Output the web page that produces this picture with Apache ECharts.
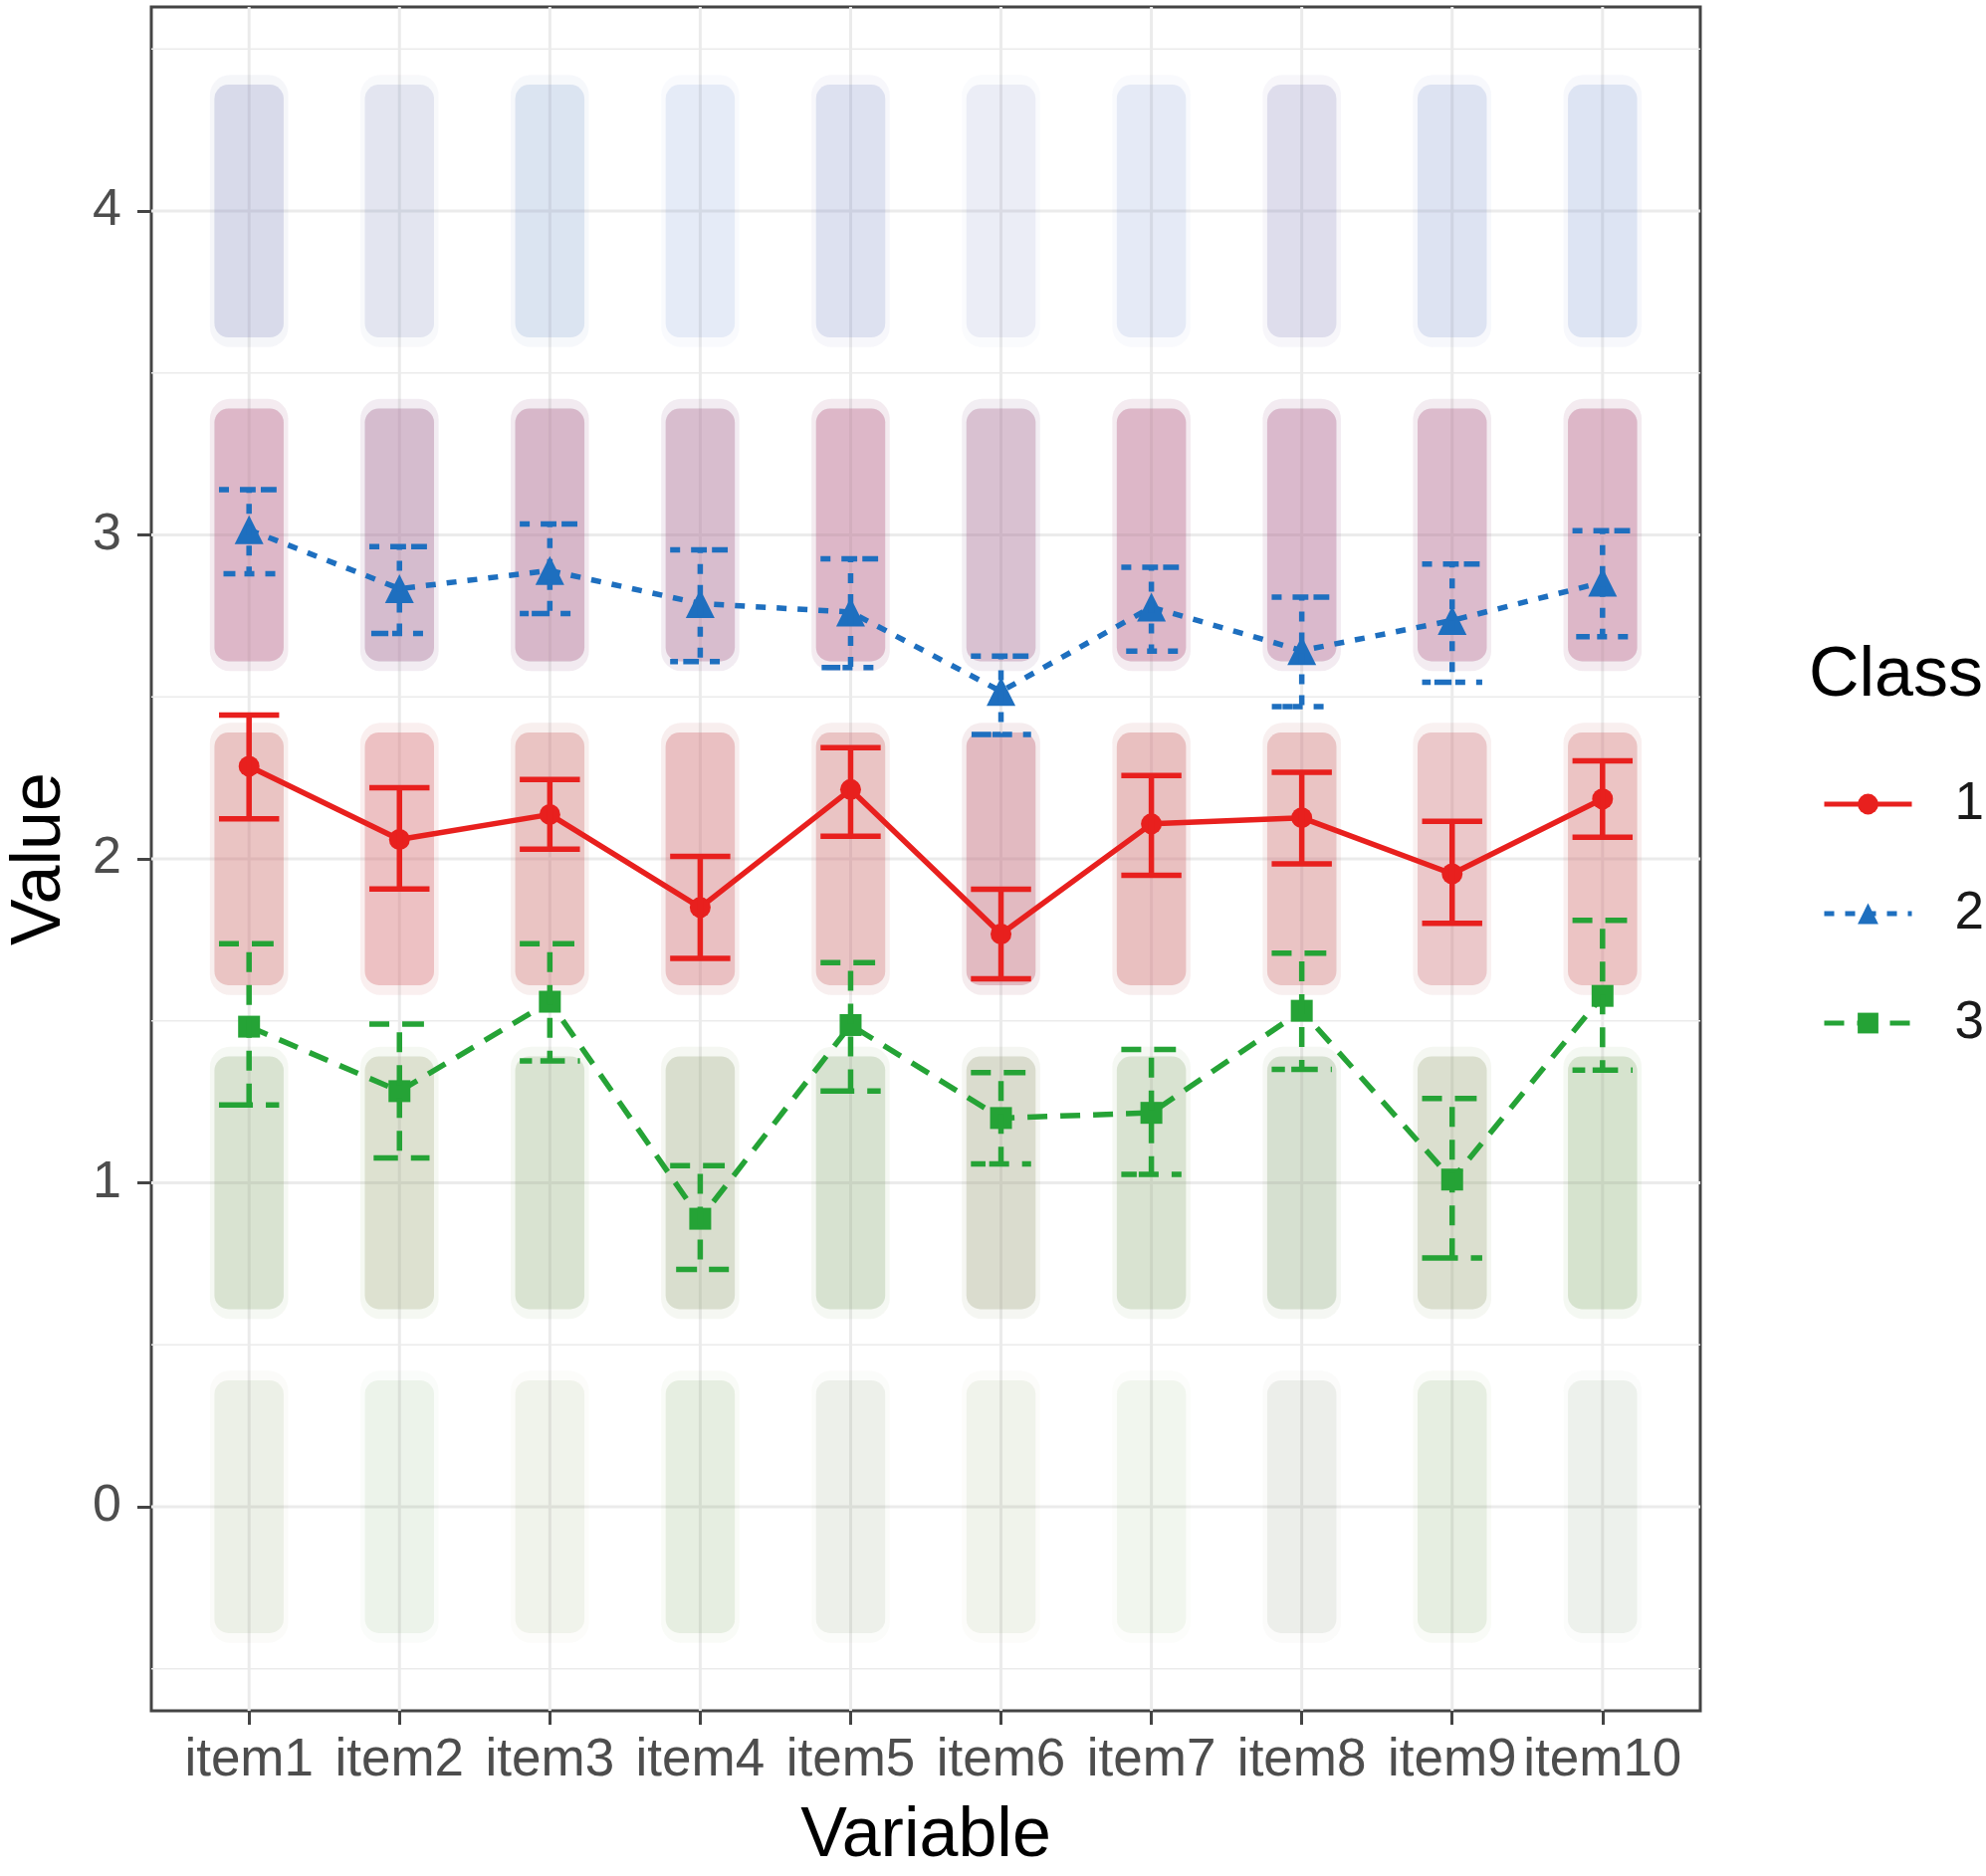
<!DOCTYPE html>
<html>
<head>
<meta charset="utf-8">
<script src="https://cdn.jsdelivr.net/npm/echarts@6/dist/echarts.min.js"></script>
<style>
html,body{margin:0;padding:0;background:#fff;}
#chart{width:1995px;height:1885px;}
</style>
</head>
<body>
<div id="chart"></div>
<script>
var items = ['item1','item2','item3','item4','item5','item6','item7','item8','item9','item10'];
var itemPos = [1,2,3,4,5,6,7,8,9,10];
var yTicks = [0,1,2,3,4];
var yMinor = [-0.5,0.5,1.5,2.5,3.5,4.5];
var levels = [0,1,2,3,4];

// class means and error bar ends
var mean1 = [2.286,2.06,2.137,1.85,2.214,1.768,2.108,2.127,1.954,2.185];
var hi1   = [2.444,2.22,2.245,2.008,2.343,1.906,2.257,2.267,2.116,2.303];
var lo1   = [2.124,1.907,2.03,1.693,2.07,1.63,1.949,1.985,1.801,2.067];
var mean2 = [3.016,2.834,2.89,2.788,2.762,2.517,2.777,2.643,2.736,2.854];
var hi2   = [3.14,2.964,3.034,2.954,2.926,2.626,2.90,2.808,2.91,3.013];
var lo2   = [2.88,2.696,2.757,2.609,2.591,2.384,2.641,2.47,2.545,2.686];
var mean3 = [1.482,1.283,1.559,0.889,1.487,1.20,1.216,1.531,1.01,1.577];
var hi3   = [1.738,1.49,1.738,1.053,1.68,1.34,1.412,1.709,1.26,1.81];
var lo3   = [1.24,1.077,1.376,0.733,1.283,1.058,1.026,1.35,0.768,1.348];

// density of jittered raw answers, rows = answer 0..4, columns = items
var cloud1 = [
  [0.08,0.05,0.07,0.08,0.08,0.07,0.04,0.08,0.08,0.06],
  [0.13,0.17,0.12,0.17,0.13,0.2,0.13,0.13,0.17,0.12],
  [0.6,0.65,0.6,0.65,0.6,0.65,0.65,0.6,0.55,0.6],
  [0.6,0.5,0.55,0.5,0.6,0.45,0.6,0.55,0.55,0.6],
  [0.12,0.08,0.04,0.03,0.08,0.06,0.04,0.12,0.06,0.04]
];
var cloud2 = [
  [0.01,0.02,0.01,0.01,0.03,0.01,0.01,0.05,0.01,0.05],
  [0.02,0.02,0.02,0.03,0.03,0.05,0.02,0.05,0.02,0.02],
  [0.05,0.05,0.05,0.1,0.07,0.25,0.07,0.08,0.07,0.05],
  [0.42,0.5,0.46,0.46,0.42,0.44,0.42,0.46,0.42,0.42],
  [0.4,0.25,0.35,0.25,0.35,0.2,0.25,0.35,0.35,0.35]
];
var cloud3 = [
  [0.18,0.18,0.15,0.25,0.15,0.15,0.15,0.15,0.25,0.15],
  [0.42,0.38,0.42,0.42,0.42,0.38,0.42,0.42,0.42,0.46],
  [0.2,0.15,0.2,0.15,0.18,0.15,0.18,0.18,0.15,0.18],
  [0.06,0.05,0.1,0.05,0.06,0.05,0.06,0.05,0.05,0.06],
  [0.02,0.03,0.02,0,0,0,0,0,0,0]
];

var colors = ['#E8201E','#1E6FBF','#25A336'];
var tints = ['#F06C7A','#5E92DE','#6CC46C'];
var FONT = 'Liberation Sans, Arial, sans-serif';

function pairs(ys){ return itemPos.map(function(x,i){ return [x, ys[i]]; }); }
function bars(lo, hi){ return itemPos.map(function(x,i){ return [x, lo[i], hi[i]]; }); }
function cloudData(c){
  var out = [];
  levels.forEach(function(l, li){
    itemPos.forEach(function(x, i){ if (c[li][i] > 0) out.push([x, l, c[li][i]]); });
  });
  return out;
}

// one soft block per item/answer/class, opacity follows density
function cloudRender(color){
  return function(params, api){
    var x = api.value(0), l = api.value(1), d = api.value(2);
    var a = Math.min(0.45, d*0.6);
    var o1 = api.coord([x - 0.26, l + 0.42]), o2 = api.coord([x + 0.26, l - 0.42]);
    var p1 = api.coord([x - 0.23, l + 0.39]), p2 = api.coord([x + 0.23, l - 0.39]);
    return {type:'group', children:[
      {type:'rect', shape:{x:o1[0], y:o1[1], width:o2[0]-o1[0], height:o2[1]-o1[1], r:20},
        style:{fill:color, opacity:a*0.25}},
      {type:'rect', shape:{x:p1[0], y:p1[1], width:p2[0]-p1[0], height:p2[1]-p1[1], r:14},
        style:{fill:color, opacity:a*0.8}}
    ]};
  };
}

function errRender(color, dash){
  return function(params, api){
    var x = api.value(0);
    var pl = api.coord([x, api.value(1)]);
    var ph = api.coord([x, api.value(2)]);
    var half = api.size([0.2, 0])[0];
    return {type:'polyline', shape:{points:[
        [ph[0]-half, ph[1]], [ph[0]+half, ph[1]], [ph[0], ph[1]],
        [pl[0], pl[1]], [pl[0]-half, pl[1]], [pl[0]+half, pl[1]]
      ]},
      style:{stroke:color, lineWidth:5.5, lineDash:dash, fill:null}};
  };
}

function gridRender(horizontal, width){
  return function(params, api){
    var cs = params.coordSys;
    if (horizontal){
      var y = api.coord([1, api.value(1)])[1];
      return {type:'line', shape:{x1:cs.x, y1:y, x2:cs.x+cs.width, y2:y}, style:{stroke:'#EBEBEB', lineWidth:width}};
    }
    var x = api.coord([api.value(0), 1])[0];
    return {type:'line', shape:{x1:x, y1:cs.y, x2:x, y2:cs.y+cs.height}, style:{stroke:'#EBEBEB', lineWidth:width}};
  };
}

var dashes = [null, [10,11], [20,13]];
var symbols = ['circle','triangle','rect'];
var symSizes = [21,29,22];
var means = [mean1, mean2, mean3];
var los = [lo1, lo2, lo3];
var his = [hi1, hi2, hi3];
var clouds = [cloud1, cloud2, cloud3];

var series = [
  {type:'custom', name:'gy', z:0, silent:true, renderItem:gridRender(true, 1.5),
   data:yMinor.map(function(v){ return [1, v]; }), encode:{x:0, y:1}},
  {type:'custom', name:'gY', z:0, silent:true, renderItem:gridRender(true, 3),
   data:yTicks.map(function(v){ return [1, v]; }), encode:{x:0, y:1}},
  {type:'custom', name:'gX', z:0, silent:true, renderItem:gridRender(false, 3),
   data:itemPos.map(function(v){ return [v, 1]; }), encode:{x:0, y:1}}
];
[2,1,0].forEach(function(k){
  series.push({type:'custom', name:'cloud'+(k+1), z:1, silent:true, clip:true,
    renderItem:cloudRender(tints[k]), data:cloudData(clouds[k]), encode:{x:0, y:1}});
});
[0,1,2].forEach(function(k){
  series.push({type:'line', name:String(k+1), z:3, data:pairs(means[k]),
    symbol:symbols[k], symbolSize:symSizes[k], showSymbol:true,
    itemStyle:{color:colors[k]},
    lineStyle:{color:colors[k], width:5.5, type:dashes[k] || 'solid'}});
  series.push({type:'custom', name:'eb'+(k+1), z:4, silent:true,
    renderItem:errRender(colors[k], dashes[k]), data:bars(los[k], his[k]), encode:{x:0, y:[1,2]}});
});

var chart = echarts.init(document.getElementById('chart'));
chart.setOption({
  animation:false,
  backgroundColor:'#ffffff',
  textStyle:{fontFamily:FONT},
  grid:{left:152, right:287, top:7, bottom:166, containLabel:false, outerBoundsMode:'none',
    show:true, borderColor:'#444', borderWidth:3, backgroundColor:'#fff'},
  xAxis:{type:'value', min:0.35, max:10.65,
    axisLine:{show:false, onZero:false}, splitLine:{show:false},
    axisTick:{show:true, customValues:itemPos, length:14, lineStyle:{color:'#444', width:3}},
    axisLabel:{customValues:itemPos, fontSize:53, color:'#4D4D4D', margin:24, fontFamily:FONT,
      formatter:function(v){ return items[Math.round(v)-1]; }},
    name:'Variable', nameLocation:'middle', nameGap:92,
    nameTextStyle:{fontSize:70, color:'#000', fontFamily:FONT}},
  yAxis:{type:'value', min:-0.63, max:4.63,
    axisLine:{show:false, onZero:false}, splitLine:{show:false},
    axisTick:{show:true, customValues:yTicks, length:14, lineStyle:{color:'#444', width:3}},
    axisLabel:{customValues:yTicks, fontSize:52, color:'#4D4D4D', margin:30, fontFamily:FONT},
    name:'Value', nameLocation:'middle', nameGap:76,
    nameTextStyle:{fontSize:70, color:'#000', fontFamily:FONT}},
  legend:{data:['1','2','3'], orient:'vertical', left:1825, top:773, itemWidth:88, itemHeight:26, itemGap:50,
    selectedMode:false, lineStyle:{width:5},
    textStyle:{fontSize:53, color:'#1a1a1a', lineHeight:60, padding:[0,0,0,38], fontFamily:FONT}},
  graphic:[{type:'text', left:1817, top:645, style:{text:'Class', fontSize:70, fill:'#000', fontFamily:FONT}}],
  series:series
});
</script>
</body>
</html>
